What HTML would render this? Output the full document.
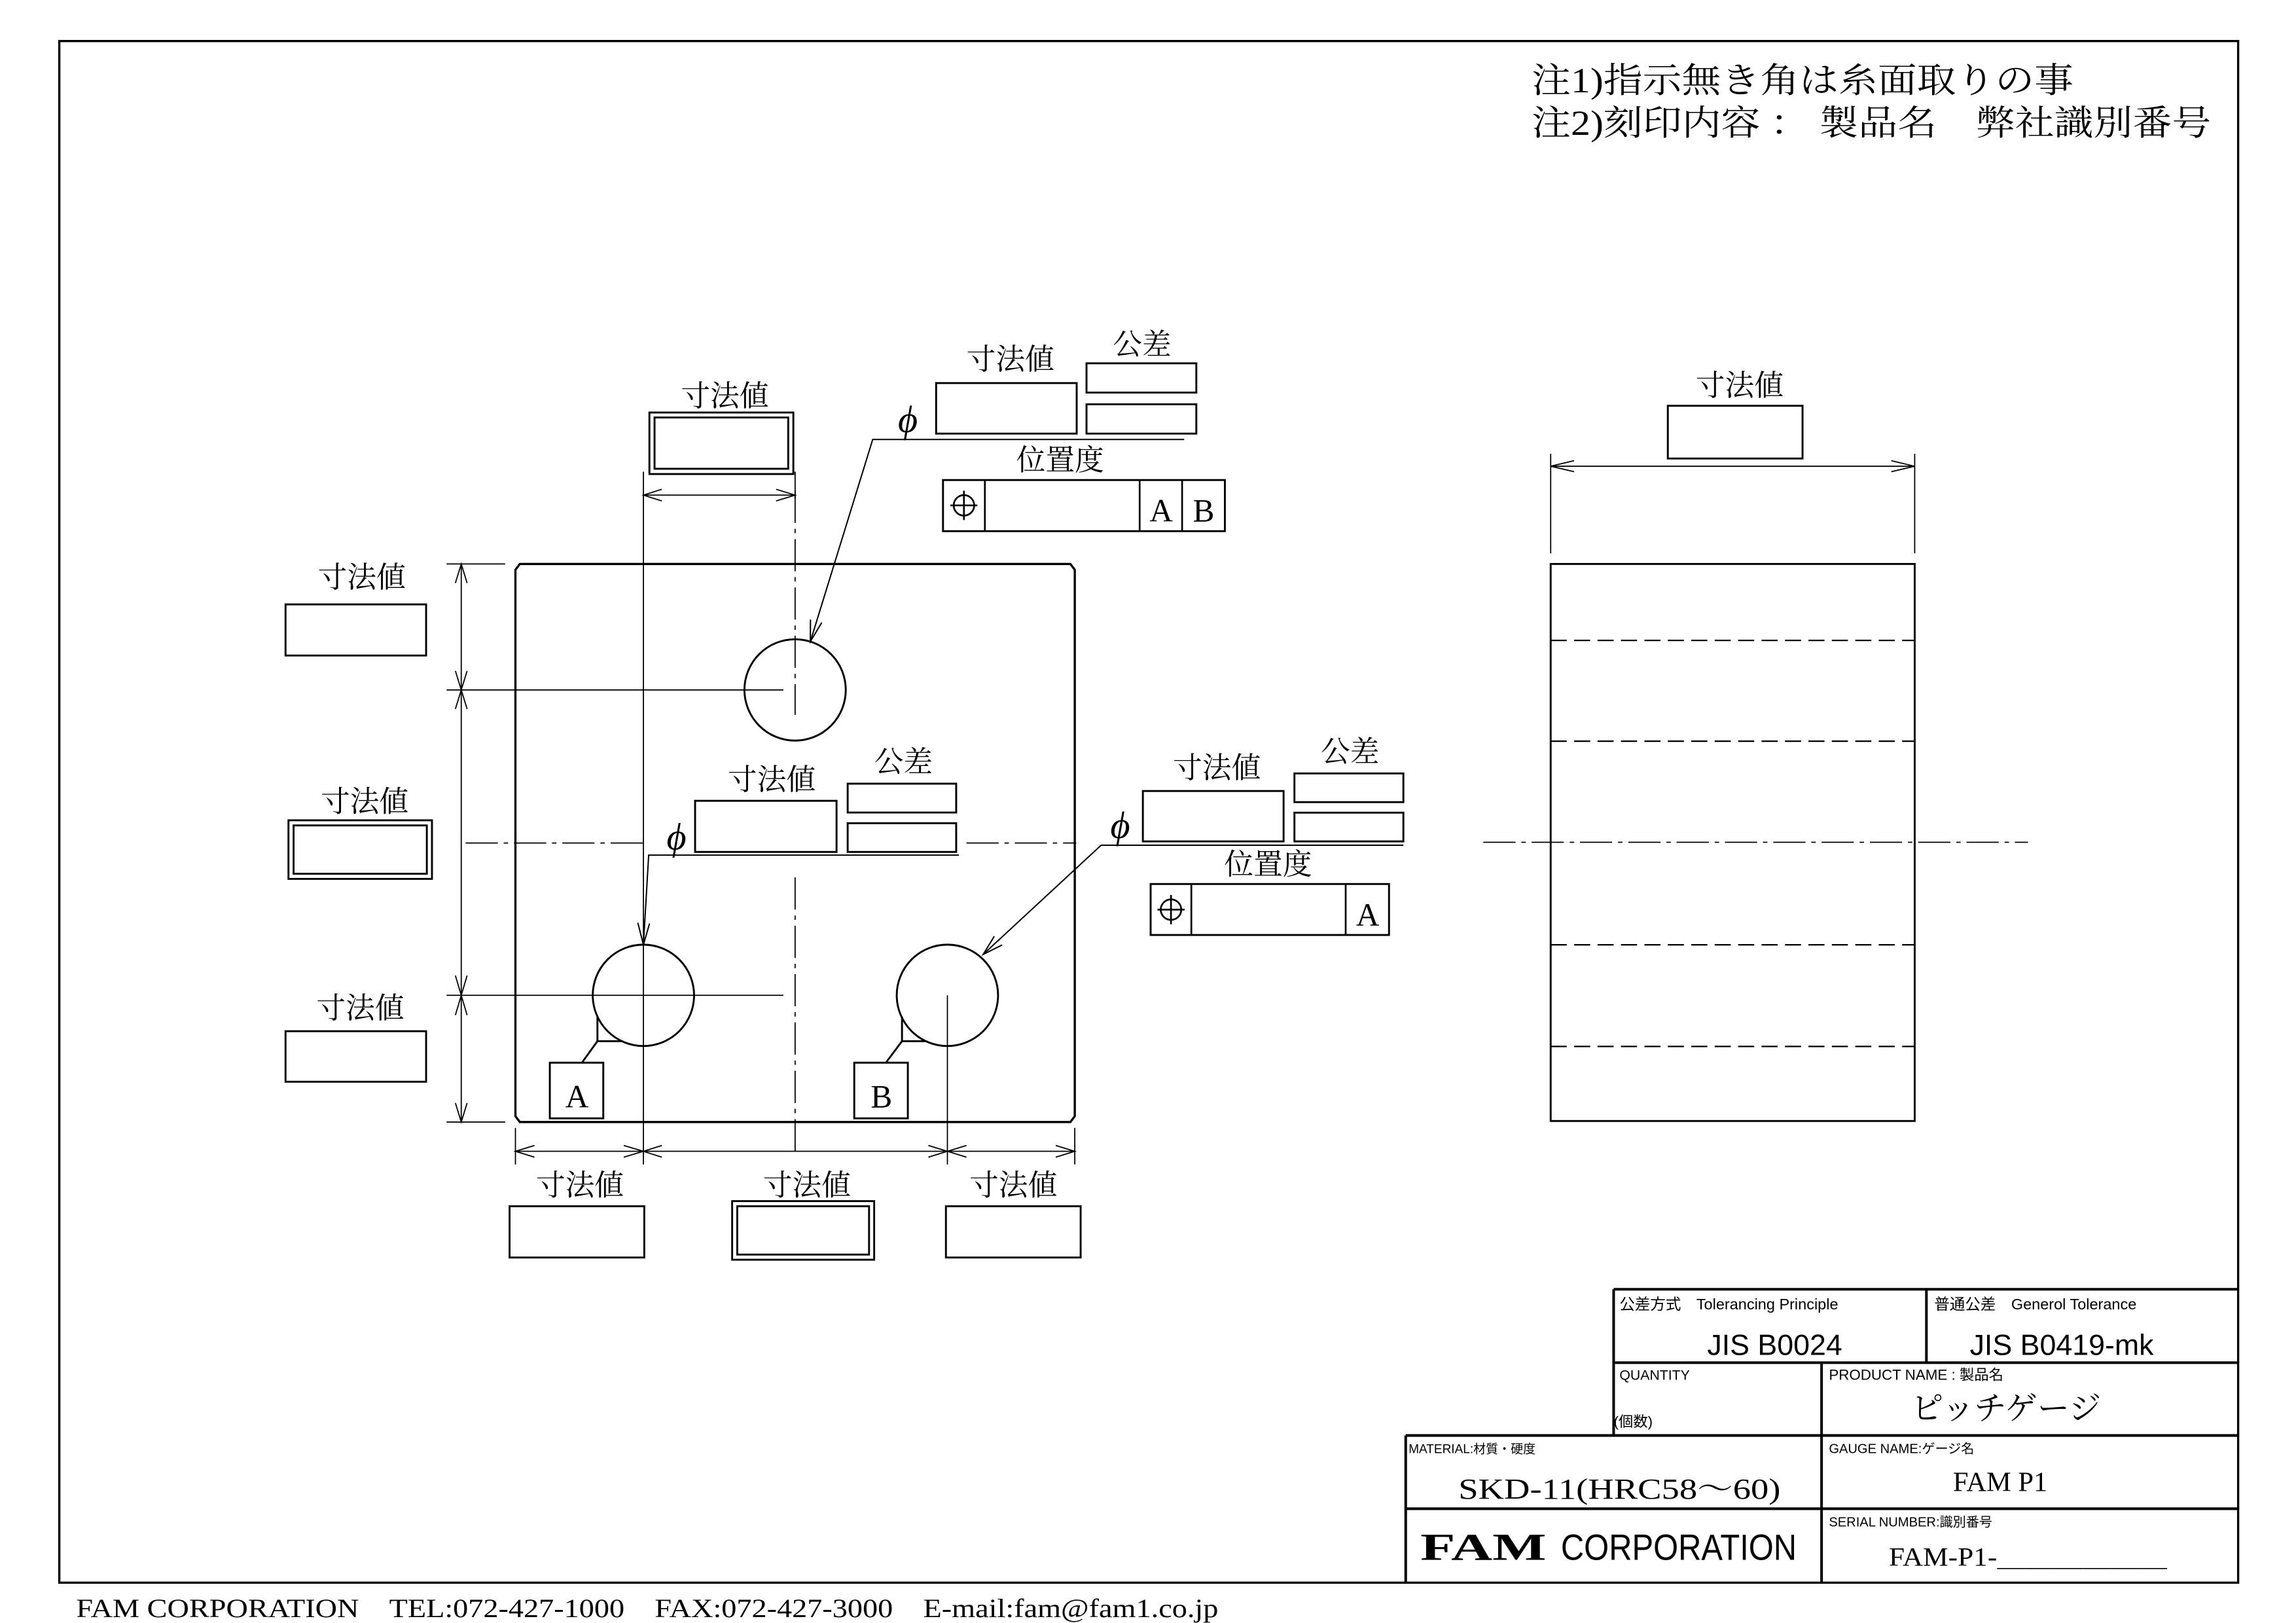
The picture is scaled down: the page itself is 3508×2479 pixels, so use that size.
<!DOCTYPE html>
<html><head><meta charset="utf-8"><style>
html,body{margin:0;padding:0;background:#fff;}
svg{display:block;}
text{font-family:"Liberation Serif","Noto Serif CJK SC",serif;fill:#000;}
.s{font-family:"Liberation Sans","Noto Sans CJK JP",sans-serif;}
</style></head><body>
<svg width="3508" height="2479" viewBox="0 0 1568 1108" xmlns="http://www.w3.org/2000/svg">
<rect x="0" y="0" width="1568" height="1108" fill="#fff"/>
<g fill="none" stroke="#000">
<rect x="40.5" y="28" width="1488" height="1052.5" stroke-width="1.5"/>

<path d="M355,385 H731 L734,389 V762 L731,766 H355 L352,762 V389 Z" stroke-width="1.5"/>
<circle cx="543" cy="471" r="34.6" stroke-width="1.3"/>
<circle cx="439.4" cy="679.5" r="34.6" stroke-width="1.3"/>
<circle cx="647" cy="679.5" r="34.6" stroke-width="1.3"/>

<g stroke-width="0.8" stroke-dasharray="22,4,3,4">
<line x1="543" y1="335" x2="543" y2="488"/>
<line x1="543" y1="599" x2="543" y2="790"/>
<line x1="318" y1="575.5" x2="442" y2="575.5"/>
<line x1="660" y1="575.5" x2="735" y2="575.5"/>
<line x1="1013" y1="575" x2="1385" y2="575"/>
</g>
<g stroke-width="0.8">
<line x1="439.4" y1="322" x2="439.4" y2="795"/>
<line x1="647" y1="679.5" x2="647" y2="795"/>
<line x1="305" y1="385" x2="345" y2="385"/>
<line x1="305" y1="471" x2="535" y2="471"/>
<line x1="305" y1="679.5" x2="535" y2="679.5"/>
<line x1="305" y1="766" x2="345" y2="766"/>
<line x1="315" y1="385" x2="315" y2="766"/>
<path d="M311,398 L315,385 L319,398 M311,458 L315,471 L319,458 M311,484 L315,471 L319,484 M311,666 L315,679.5 L319,666 M311,693 L315,679.5 L319,693 M311,753 L315,766 L319,753"/>
<line x1="352" y1="770" x2="352" y2="795"/>
<line x1="734" y1="770" x2="734" y2="795"/>
<line x1="352" y1="786" x2="734" y2="786"/>
<path d="M365,782 L352,786 L365,790 M426,782 L439.4,786 L426,790 M452,782 L439.4,786 L452,790 M634,782 L647,786 L634,790 M660,782 L647,786 L660,790 M721,782 L734,786 L721,790"/>
<line x1="543" y1="322" x2="543" y2="340"/>
<line x1="439.4" y1="338" x2="543" y2="338"/>
<path d="M452,334 L439.4,338 L452,342 M530,334 L543,338 L530,342"/>
</g>

<rect x="195" y="412.6" width="96" height="34.9" stroke-width="1.3"/>
<rect x="197" y="560" width="98" height="40" stroke-width="1.3"/>
<rect x="200.5" y="563.5" width="91" height="33" stroke-width="1.3"/>
<rect x="195" y="704" width="96" height="34.5" stroke-width="1.3"/>
<rect x="443.5" y="281.6" width="98.3" height="42" stroke-width="1.3"/>
<rect x="447" y="285" width="91.3" height="35" stroke-width="1.3"/>
<rect x="348" y="823.5" width="92" height="35" stroke-width="1.3"/>
<rect x="500" y="820" width="97" height="40" stroke-width="1.3"/>
<rect x="503.5" y="823.5" width="90" height="33" stroke-width="1.3"/>
<rect x="646" y="823.5" width="92" height="35" stroke-width="1.3"/>

<rect x="639.3" y="261.5" width="96" height="34.5" stroke-width="1.3"/>
<rect x="742" y="248" width="75" height="20" stroke-width="1.3"/>
<rect x="742" y="276" width="75" height="20" stroke-width="1.3"/>
<path d="M808.7,300 H596 L553.4,438" stroke-width="0.9"/>
<path d="M553.5,423 L553.4,438 L561.2,425" stroke-width="0.9"/>
<rect x="644" y="327.7" width="192.5" height="34.9" stroke-width="1.3"/>
<line x1="672.6" y1="327.7" x2="672.6" y2="362.6" stroke-width="1.2"/>
<line x1="778.3" y1="327.7" x2="778.3" y2="362.6" stroke-width="1.2"/>
<line x1="807.3" y1="327.7" x2="807.3" y2="362.6" stroke-width="1.2"/>
<circle cx="658.3" cy="345" r="7" stroke-width="1.2"/>
<line x1="649" y1="345" x2="667.5" y2="345" stroke-width="1.2"/>
<line x1="658.3" y1="335" x2="658.3" y2="355" stroke-width="1.2"/>

<rect x="474.7" y="546.7" width="96.6" height="34.9" stroke-width="1.3"/>
<rect x="578.9" y="535" width="74.1" height="19.7" stroke-width="1.3"/>
<rect x="578.9" y="562" width="74.1" height="19.6" stroke-width="1.3"/>
<path d="M654.9,583.8 H443 L439.4,645" stroke-width="0.9"/>
<path d="M435.6,630 L439.4,645 L443.6,630.5" stroke-width="0.9"/>

<rect x="780.5" y="540" width="96.1" height="34.4" stroke-width="1.3"/>
<rect x="884" y="528" width="74.4" height="19.6" stroke-width="1.3"/>
<rect x="884" y="554.8" width="74.4" height="19.6" stroke-width="1.3"/>
<path d="M958.4,577 H752 L671.4,651.6" stroke-width="0.9"/>
<path d="M679,639.2 L671.4,651.6 L684.4,645.1" stroke-width="0.9"/>
<rect x="785.8" y="603.5" width="162.8" height="34.8" stroke-width="1.3"/>
<line x1="813.6" y1="603.5" x2="813.6" y2="638.3" stroke-width="1.2"/>
<line x1="919" y1="603.5" x2="919" y2="638.3" stroke-width="1.2"/>
<circle cx="799.7" cy="621" r="7" stroke-width="1.2"/>
<line x1="790.5" y1="621" x2="809" y2="621" stroke-width="1.2"/>
<line x1="799.7" y1="611" x2="799.7" y2="631" stroke-width="1.2"/>

<rect x="375.5" y="725.5" width="36.5" height="38" stroke-width="1.3"/>
<path d="M397.4,725.5 L408,710.8 H424.3 M408,710.8 V694" stroke-width="1.3"/>
<rect x="583.4" y="725.5" width="36.6" height="38" stroke-width="1.3"/>
<path d="M605,725.5 L616,710.8 H632 M616,710.8 V694" stroke-width="1.3"/>

<rect x="1059" y="385" width="248.6" height="380.3" stroke-width="1.3"/>
<g stroke-width="1" stroke-dasharray="11,5">
<line x1="1059" y1="437.2" x2="1307.6" y2="437.2"/>
<line x1="1059" y1="506" x2="1307.6" y2="506"/>
<line x1="1059" y1="645" x2="1307.6" y2="645"/>
<line x1="1059" y1="714.4" x2="1307.6" y2="714.4"/>
</g>
<g stroke-width="0.8">
<line x1="1059" y1="309.8" x2="1059" y2="377.7"/>
<line x1="1307.6" y1="309.8" x2="1307.6" y2="377.7"/>
<line x1="1059" y1="318.3" x2="1307.6" y2="318.3"/>
<path d="M1075,314.5 L1059,318.3 L1075,322 M1291.6,314.5 L1307.6,318.3 L1291.6,322"/>
</g>
<rect x="1139" y="277" width="92" height="36" stroke-width="1.3"/>

<g stroke-width="1.8">
<line x1="1102" y1="880.2" x2="1528.5" y2="880.2"/>
<line x1="1102" y1="880.2" x2="1102" y2="980"/>
<line x1="1315.6" y1="880.2" x2="1315.6" y2="930.3"/>
<line x1="1102" y1="930.3" x2="1528.5" y2="930.3"/>
<line x1="1244" y1="930.3" x2="1244" y2="1080.5"/>
<line x1="960" y1="980" x2="1528.5" y2="980"/>
<line x1="960" y1="980" x2="960" y2="1080.5"/>
<line x1="960" y1="1030" x2="1528.5" y2="1030"/>
</g>
</g>

<text x="1046" y="63" font-size="24" textLength="370" lengthAdjust="spacingAndGlyphs">注1)指示無き角は糸面取りの事</text>
<text x="1046" y="92" font-size="24" textLength="464" lengthAdjust="spacingAndGlyphs">注2)刻印内容 ： 製品名　弊社識別番号</text>

<g font-size="20" text-anchor="middle">
<text x="247" y="401">寸法値</text>
<text x="249" y="554">寸法値</text>
<text x="246" y="695">寸法値</text>
<text x="495" y="277">寸法値</text>
<text x="690" y="252">寸法値</text>
<text x="780" y="242">公差</text>
<text x="724" y="321">位置度</text>
<text x="527" y="539">寸法値</text>
<text x="617" y="527">公差</text>
<text x="831" y="531">寸法値</text>
<text x="922" y="520">公差</text>
<text x="866" y="597">位置度</text>
<text x="396" y="816">寸法値</text>
<text x="551" y="816">寸法値</text>
<text x="692" y="816">寸法値</text>
<text x="1188" y="270">寸法値</text>
</g>
<g font-size="26" font-style="italic" text-anchor="middle">
<text x="620" y="295">ϕ</text>
<text x="462" y="580">ϕ</text>
<text x="765" y="572">ϕ</text>
</g>
<g font-size="22" text-anchor="middle">
<text x="793" y="356">A</text>
<text x="822" y="356">B</text>
<text x="934" y="632">A</text>
<text x="394" y="756">A</text>
<text x="602" y="756">B</text>
</g>

<g class="s">
<text x="1106" y="894" font-size="10.5" class="s">公差方式　Tolerancing Principle</text>
<text x="1321" y="894" font-size="10.5" class="s">普通公差　Generol Tolerance</text>
<text x="1212" y="925" font-size="20" text-anchor="middle" fill="#444" class="s">JIS B0024</text>
<text x="1408" y="925" font-size="20" text-anchor="middle" fill="#444" class="s">JIS B0419-mk</text>
<text x="1106" y="942" font-size="9.5" class="s">QUANTITY</text>
<text x="1102" y="974" font-size="10" class="s">(個数)</text>
<text x="1249" y="942" font-size="10" class="s">PRODUCT NAME : 製品名</text>
<text x="962" y="992" font-size="8.5" class="s">MATERIAL:材質・硬度</text>
<text x="1249" y="992" font-size="9" class="s">GAUGE NAME:ゲージ名</text>
<text x="1249" y="1042" font-size="9" class="s">SERIAL NUMBER:識別番号</text>
</g>
<text x="1370" y="969" font-size="22" text-anchor="middle">ピッチゲージ</text>
<text x="1106" y="1023" font-size="20" text-anchor="middle" textLength="220" lengthAdjust="spacingAndGlyphs">SKD-11(HRC58～60)</text>
<text x="1366" y="1018" font-size="19" text-anchor="middle">FAM P1</text>
<text x="1385" y="1069" font-size="18" text-anchor="middle" textLength="190" lengthAdjust="spacingAndGlyphs">FAM-P1-＿＿＿＿＿＿</text>
<text x="970" y="1065" font-size="26" font-weight="bold" textLength="86" lengthAdjust="spacingAndGlyphs">FAM</text>
<text x="1066" y="1065" font-size="25" class="s" textLength="161" lengthAdjust="spacingAndGlyphs">CORPORATION</text>

<text x="52" y="1104" font-size="18" textLength="780" lengthAdjust="spacingAndGlyphs">FAM CORPORATION　TEL:072-427-1000　FAX:072-427-3000　E-mail:fam@fam1.co.jp</text>
</svg>
</body></html>
